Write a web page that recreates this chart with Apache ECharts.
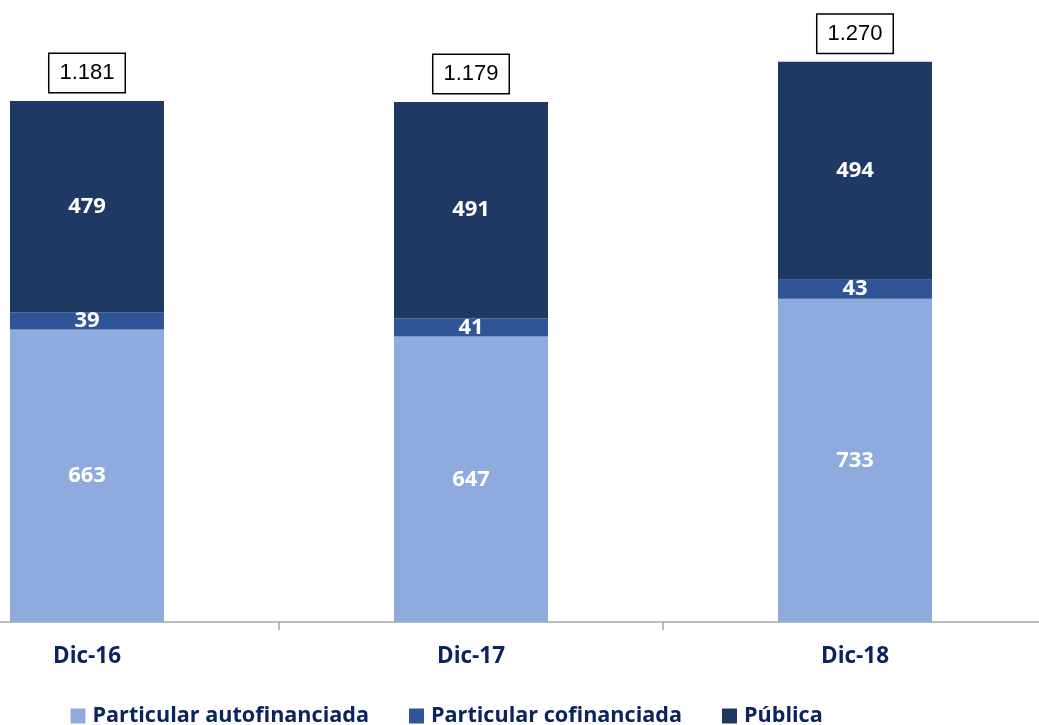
<!DOCTYPE html>
<html>
<head>
<meta charset="utf-8">
<script src="https://cdn.jsdelivr.net/npm/echarts@6/dist/echarts.min.js"></script>
<style>
  html, body { margin: 0; padding: 0; background: #fff; overflow: hidden; }
  /* el gráfico original está recortado: la primera y última banda salen del marco */
  #main { position: absolute; left: -105.5px; top: 0; width: 1152px; height: 725px; }
</style>
</head>
<body>
<div id="main"></div>
<script>
// datos
const categorias = ['Dic-16', 'Dic-17', 'Dic-18'];
const autofinanciada = [663, 647, 733];
const cofinanciada = [39, 41, 43];
const publica = [479, 491, 494];
const totales = [1181, 1179, 1270];

const nombres = ['Particular autofinanciada', 'Particular cofinanciada', 'Pública'];
const colores = ['#8FAADC', '#2F5597', '#203864'];

// 1181 -> "1.181"
let miles = (v) => String(v).replace(/\B(?=(\d{3})+(?!\d))/g, '.');

const fuente = '"Open Sans", Lato, sans-serif';
const navy = '#0B2461';

let labelDentro = {
    show: true,
    position: 'inside',
    color: '#fff',
    fontFamily: fuente,
    fontWeight: 'bold',
    fontSize: 22
};

let myChart = echarts.init(document.getElementById('main'));

myChart.setOption({
    animation: false,
    grid: {
        left: 0,
        right: 0,
        top: 4.4,
        bottom: 103
    },
    legend: {
        data: nombres,
        left: 170.5,
        top: 700,
        itemWidth: 15,
        itemHeight: 15,
        itemGap: 40,
        icon: 'rect',
        textStyle: {
            color: navy,
            fontFamily: fuente,
            fontWeight: 'bold',
            fontSize: 21.6,
            padding: [0, 0, 0, 2]
        }
    },
    xAxis: {
        type: 'category',
        data: categorias,
        axisLine: { lineStyle: { color: '#A6A6A6', width: 1.5 } },
        axisTick: { show: true, length: 8, lineStyle: { color: '#A6A6A6', width: 1.5 } },
        axisLabel: {
            margin: 23,
            color: navy,
            fontFamily: fuente,
            fontWeight: 'bold',
            fontSize: 22.5
        }
    },
    yAxis: {
        type: 'value',
        min: 0,
        max: 1400,
        show: false,
        splitLine: { show: false }
    },
    series: [
        {
            name: nombres[0],
            type: 'bar',
            stack: 'total',
            barWidth: 154,
            itemStyle: { color: colores[0] },
            label: labelDentro,
            data: autofinanciada
        },
        {
            name: nombres[1],
            type: 'bar',
            stack: 'total',
            barWidth: 154,
            itemStyle: { color: colores[1] },
            label: labelDentro,
            data: cofinanciada
        },
        {
            name: nombres[2],
            type: 'bar',
            stack: 'total',
            barWidth: 154,
            itemStyle: { color: colores[2] },
            label: labelDentro,
            data: publica
        },
        {
            // serie invisible solo para la caja del total
            name: 'Total',
            type: 'bar',
            barGap: '-100%',
            barWidth: 154,
            itemStyle: { color: 'rgba(0,0,0,0)' },
            silent: true,
            label: {
                show: true,
                position: 'top',
                distance: 9,
                formatter: (p) => miles(p.value),
                color: '#000',
                fontFamily: '"Liberation Sans", Lato, sans-serif',
                fontSize: 22,
                backgroundColor: '#fff',
                borderColor: '#000',
                borderWidth: 1.5,
                padding: [8, 10, 8, 10]
            },
            data: totales
        }
    ]
});
</script>
</body>
</html>
